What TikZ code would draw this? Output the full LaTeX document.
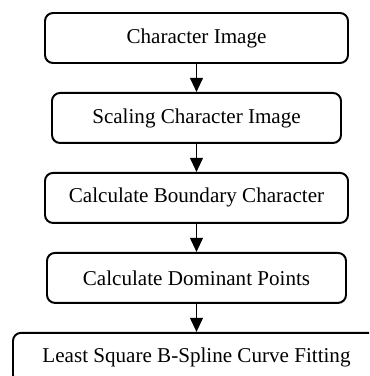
\documentclass[tikz,border=0pt]{standalone}
\usepackage{fontspec}
\setmainfont{Liberation Serif}
\usetikzlibrary{arrows.meta,positioning}

\begin{document}
\begin{tikzpicture}[x=1cm,y=1cm,
        node distance=0.7cm,
        stage/.style={draw, line width=1.4pt, rounded corners=0.2cm,
            minimum height=1.25cm, font=\fontsize{15}{18}\selectfont},
        flow/.style={-{Triangle[length=0.35cm,width=0.32cm]}, line width=1.1pt}]
            \useasboundingbox (0,0) rectangle (9.225,9.4);
            \clip (0,0) rectangle (9.225,9.4);

            % processing stages, top to bottom
            \node[stage, minimum width=7.575cm] (charimg) at (4.9125,8.45) {Character Image};
            \node[stage, minimum width=7.225cm, below=of charimg] (scaling) {Scaling Character Image};
            \node[stage, minimum width=7.575cm, below=of scaling] (boundary) {Calculate Boundary Character};
            \node[stage, minimum width=7.475cm, below=of boundary] (dominant) {Calculate Dominant Points};
            \node[stage, minimum width=9.175cm, below=of dominant] (fitting) {Least Square B-Spline Curve Fitting};

            \draw[flow] (charimg) -- (scaling);
            \draw[flow] (scaling) -- (boundary);
            \draw[flow] (boundary) -- (dominant);
            \draw[flow] (dominant) -- (fitting);
        \end{tikzpicture}
\end{document}
